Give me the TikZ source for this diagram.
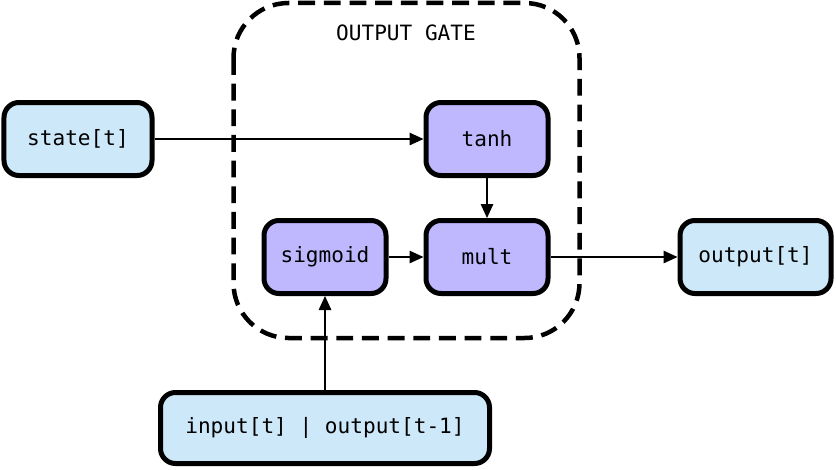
\documentclass[tikz,border=0pt]{standalone}
\usepackage{fontspec}
\setmonofont{DejaVu Sans Mono}
\usepackage{tikz}
\usetikzlibrary{shapes.geometric, positioning, calc}
\usetikzlibrary{backgrounds}
\usetikzlibrary{arrows.meta}
\definecolor{iofill}{HTML}{CDE8F8}
\definecolor{gatefill}{HTML}{C0B8FF}
\tikzstyle{io} = [rectangle, rounded corners=.3cm, minimum width=2.96cm, minimum height=1.46cm, text centered, draw=black, line width=.1cm, fill=iofill, font=\ttfamily\fontsize{12}{15}\selectfont]
\tikzstyle{gate} = [rectangle, rounded corners=.3cm, minimum width=2.44cm, minimum height=1.46cm, text centered, draw=black, line width=.1cm, fill=gatefill, font=\ttfamily\fontsize{12}{15}\selectfont]
\tikzstyle{arrow} = [line width=.8pt,-{Triangle[length=2.8mm,width=2.5mm]}]

\begin{document}
\begin{tikzpicture}
            \useasboundingbox (0,0) rectangle (16.72,-9.38);
            \node (mult) [gate] at (9.74,-5.14) {mult};
            \node (tanh) [gate, above=.8cm of mult] {tanh};
            \node (sigmoid) [gate, left=.7cm of mult] {sigmoid};
            \node (state) [io, left=5.38cm of tanh] {state[t]};
            \node (output) [io, minimum width=3.02cm, right=2.54cm of mult] {output[t]};
            \node (input) [io, minimum width=6.58cm, minimum height=1.42cm, below=1.88cm of sigmoid] {input[t] | output[t-1]};
            \node (gatetitle) [font=\ttfamily\fontsize{12}{15}\selectfont] at ($(sigmoid.north)!.5!(mult.north)+(0,3.7)$) {OUTPUT GATE};

            \draw [arrow] (state) -- (tanh);
            \draw [arrow] (tanh) -- (mult);
            \draw [arrow] (sigmoid) -- (mult);
            \draw [arrow] (mult) -- (output);
            \draw [arrow] (input) -- (sigmoid);

            \begin{scope}[on background layer]
                \draw[black,line width=.09cm,dash pattern=on 9.6pt off 5pt,rounded corners=1.1cm] ($(sigmoid.west |- tanh.north)+(-.56,1.94)$) rectangle ($(mult.south east)+(.58,-.84)$);
            \end{scope}
        \end{tikzpicture}
\end{document}
